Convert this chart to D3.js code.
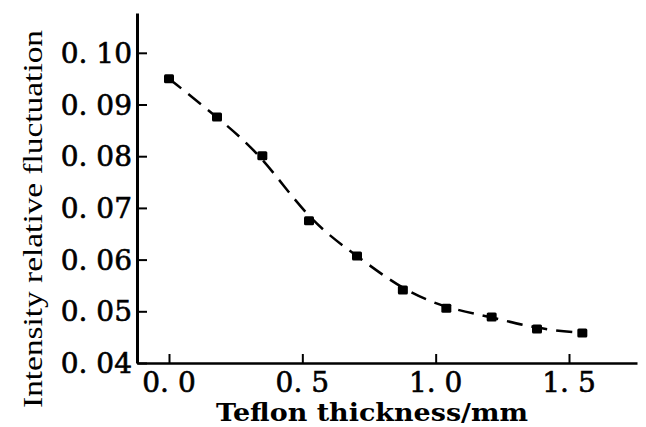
<!DOCTYPE html>
<html>
<head>
<meta charset="utf-8">
<script src="https://cdn.jsdelivr.net/npm/d3@7"></script>
<style>
  body { margin: 0; background: #fff; }
  svg { display: block; }
</style>
</head>
<body>
<div id="chart"></div>
<script>
// datos
var thickness = [0.0, 0.18, 0.35, 0.525, 0.705, 0.877, 1.04, 1.21, 1.38, 1.55];
var fluctuation = [0.0950, 0.0876, 0.0801, 0.0675, 0.0607, 0.0541, 0.0506, 0.0489, 0.0466, 0.0458];
var xTicks = [0.0, 0.5, 1.0, 1.5];
var yTicks = [0.04, 0.05, 0.06, 0.07, 0.08, 0.09, 0.10];

var w = 646, h = 427;
var mLeft = 137, mRight = 637, mTop = 13, mBottom = 363;

var svg = d3.select("#chart").append("svg")
    .attr("width", w)
    .attr("height", h);

// escalas
var x = d3.scaleLinear().domain([-0.12, 1.755]).range([mLeft, mRight]);
var y = d3.scaleLinear().domain([0.04, 0.1077]).range([mBottom, mTop]);

var font = "'DejaVu Serif', 'Liberation Serif', serif";

// eje x
var gx = svg.append("g")
    .attr("transform", "translate(0," + mBottom + ")")
    .call(d3.axisTop(x).tickValues(xTicks).tickSize(9).tickSizeOuter(0).tickFormat(""));
gx.select(".domain").attr("stroke-width", 2.5);
gx.selectAll(".tick line").attr("stroke-width", 2);

// eje y
var gy = svg.append("g")
    .attr("transform", "translate(" + mLeft + ",0)")
    .call(d3.axisRight(y).tickValues(yTicks).tickSize(10).tickSizeOuter(0).tickFormat(""));
gy.select(".domain").attr("stroke-width", 3);
gy.selectAll(".tick line").attr("stroke-width", 2);

// etiquetas de los ticks
svg.selectAll(".xlab")
    .data(xTicks)
    .enter()
    .append("text")
    .attr("x", function (d) { return x(d); })
    .attr("y", 392)
    .attr("text-anchor", "middle")
    .attr("font-family", font)
    .attr("font-size", 28)
    .attr("stroke", "#000")
    .attr("stroke-width", 0.6)
    .text(function (d) { return d3.format(".1f")(d).replace(".", ". "); });

svg.selectAll(".ylab")
    .data(yTicks)
    .enter()
    .append("text")
    .attr("x", 132)
    .attr("y", function (d) { return y(d) + 10; })
    .attr("text-anchor", "end")
    .attr("font-family", font)
    .attr("font-size", 28)
    .attr("stroke", "#000")
    .attr("stroke-width", 0.6)
    .text(function (d) { return d3.format(".2f")(d).replace(".", ". "); });

// títulos de los ejes
svg.append("text")
    .attr("x", 372)
    .attr("y", 421)
    .attr("text-anchor", "middle")
    .attr("font-family", font)
    .attr("font-weight", "bold")
    .attr("font-size", 25)
    .attr("textLength", 312)
    .attr("lengthAdjust", "spacingAndGlyphs")
    .text("Teflon thickness/mm");

svg.append("text")
    .attr("transform", "translate(42,219) rotate(-90)")
    .attr("text-anchor", "middle")
    .attr("font-family", "'Liberation Serif', 'Times New Roman', serif")
    .attr("font-size", 28)
    .attr("textLength", 378)
    .attr("lengthAdjust", "spacingAndGlyphs")
    .text("Intensity relative fluctuation");

// curva discontinua
var dataset = thickness.map(function (t, i) { return { t: t, v: fluctuation[i] }; });
var line = d3.line()
    .x(function (d) { return x(d.t); })
    .y(function (d) { return y(d.v); })
    .curve(d3.curveBasis);

svg.append("path")
    .datum(dataset)
    .attr("fill", "none")
    .attr("stroke", "#000")
    .attr("stroke-width", 2.5)
    .attr("stroke-dasharray", "16,9")
    .attr("d", line);

// puntos
svg.selectAll(".pt")
    .data(dataset)
    .enter()
    .append("rect")
    .attr("x", function (d) { return x(d.t) - 5; })
    .attr("y", function (d) { return y(d.v) - 4.5; })
    .attr("width", 10)
    .attr("height", 9)
    .attr("rx", 1.5)
    .attr("fill", "#000");
</script>
</body>
</html>
